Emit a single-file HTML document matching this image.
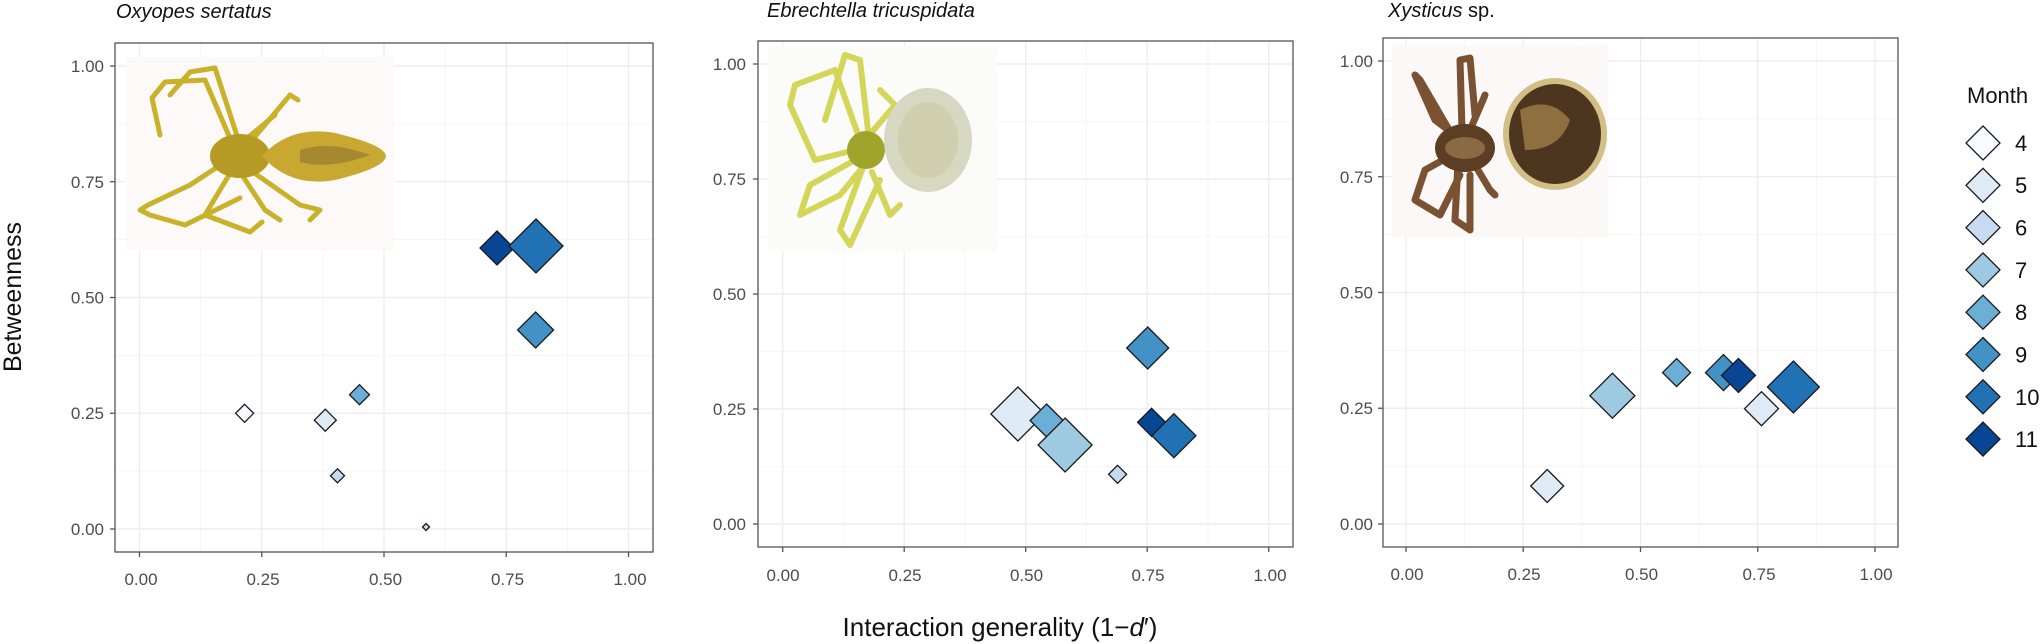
<!DOCTYPE html>
<html><head><meta charset="utf-8"><style>
html,body{margin:0;padding:0;background:#fff;}
svg{display:block;font-family:"Liberation Sans",Arial,sans-serif;}
.g{stroke:#ebebeb;stroke-width:1.2}
.m{stroke:#f4f4f4;stroke-width:0.8}
.t{font-size:17px;fill:#4d4d4d}
.d{stroke:#1a1a1a;stroke-width:1.3}
</style></head><body>
<svg width="2041" height="644" viewBox="0 0 2041 644" xmlns="http://www.w3.org/2000/svg">
<!-- ============ PANEL 1 ============ -->
<g>
<g class="m">
<line x1="200.6" y1="43" x2="200.6" y2="552"/><line x1="322.9" y1="43" x2="322.9" y2="552"/><line x1="445.1" y1="43" x2="445.1" y2="552"/><line x1="567.4" y1="43" x2="567.4" y2="552"/>
<line x1="115" y1="471.1" x2="653" y2="471.1"/><line x1="115" y1="355.4" x2="653" y2="355.4"/><line x1="115" y1="239.6" x2="653" y2="239.6"/><line x1="115" y1="123.9" x2="653" y2="123.9"/>
</g>
<g class="g">
<line x1="139.5" y1="43" x2="139.5" y2="552"/><line x1="261.75" y1="43" x2="261.75" y2="552"/><line x1="384" y1="43" x2="384" y2="552"/><line x1="506.25" y1="43" x2="506.25" y2="552"/><line x1="628.5" y1="43" x2="628.5" y2="552"/>
<line x1="115" y1="529" x2="653" y2="529"/><line x1="115" y1="413.25" x2="653" y2="413.25"/><line x1="115" y1="297.5" x2="653" y2="297.5"/><line x1="115" y1="181.75" x2="653" y2="181.75"/><line x1="115" y1="66" x2="653" y2="66"/>
</g>
<!-- photo -->
<rect x="126" y="57" width="268" height="193" fill="#fdf9f9"/>
<g fill="none" stroke="#c9b12a" stroke-width="5" stroke-linecap="round" stroke-linejoin="round">
<polyline points="235,150 205,80 165,82 152,98 160,135"/>
<polyline points="240,145 215,68 190,72 170,95"/>
<polyline points="228,160 190,185 148,205 140,210 150,215 185,225 240,198"/>
<polyline points="235,165 205,215 250,232 262,222"/>
<polyline points="248,145 290,95 298,100"/>
<polyline points="250,170 300,205 320,210 310,220"/>
<polyline points="245,140 275,115"/>
<polyline points="242,175 265,210 280,220"/>
</g>
<ellipse cx="240" cy="156" rx="30" ry="22" fill="#b59a25"/>
<path d="M262,156 Q290,125 335,133 Q385,145 386,156 Q385,168 335,180 Q290,188 262,156Z" fill="#c8a830"/>
<path d="M300,150 Q330,140 370,155 Q330,170 300,162Z" fill="#8c7530" opacity="0.6"/>
<!-- points -->
<g class="d">
<path d="M244.6,404.3 L253.6,413.3 L244.6,422.3 L235.6,413.3Z" fill="#f7fbff"/>
<path d="M325.3,409.2 L336.3,420.2 L325.3,431.2 L314.3,420.2Z" fill="#deebf7"/>
<path d="M337.5,468.8 L344.5,475.8 L337.5,482.8 L330.5,475.8Z" fill="#c6dbef"/>
<path d="M359.5,384.7 L369.5,394.7 L359.5,404.7 L349.5,394.7Z" fill="#6baed6"/>
<path d="M426,523.5 L429.5,527 L426,530.5 L422.5,527Z" fill="#c6dbef"/>
<path d="M535.6,312 L553.6,330 L535.6,348 L517.6,330Z" fill="#4292c6"/>
<path d="M497,231 L514,248 L497,265 L480,248Z" fill="#084594"/>
<path d="M536,219 L563,246 L536,273 L509,246Z" fill="#2171b5"/>
</g>
<rect x="115" y="43" width="538" height="509" fill="none" stroke="#555" stroke-width="1.3"/>
<g stroke="#555" stroke-width="1.3">
<line x1="110" y1="529" x2="115" y2="529"/><line x1="110" y1="413.25" x2="115" y2="413.25"/><line x1="110" y1="297.5" x2="115" y2="297.5"/><line x1="110" y1="181.75" x2="115" y2="181.75"/><line x1="110" y1="66" x2="115" y2="66"/>
<line x1="139.5" y1="552" x2="139.5" y2="557"/><line x1="261.75" y1="552" x2="261.75" y2="557"/><line x1="384" y1="552" x2="384" y2="557"/><line x1="506.25" y1="552" x2="506.25" y2="557"/><line x1="628.5" y1="552" x2="628.5" y2="557"/>
</g>
<g class="t" text-anchor="end">
<text x="104" y="535">0.00</text><text x="104" y="419">0.25</text><text x="104" y="303.5">0.50</text><text x="104" y="188">0.75</text><text x="104" y="72">1.00</text>
</g>
<g class="t" text-anchor="middle">
<text x="141" y="585">0.00</text><text x="263" y="585">0.25</text><text x="385.5" y="585">0.50</text><text x="507.5" y="585">0.75</text><text x="630" y="585">1.00</text>
</g>
<text x="116" y="18" font-size="20" font-style="italic" fill="#111">Oxyopes sertatus</text>
</g>

<!-- ============ PANEL 2 ============ -->
<g>
<g class="m">
<line x1="843.5" y1="41" x2="843.5" y2="547"/><line x1="965" y1="41" x2="965" y2="547"/><line x1="1086.5" y1="41" x2="1086.5" y2="547"/><line x1="1208" y1="41" x2="1208" y2="547"/>
<line x1="758" y1="466.5" x2="1293" y2="466.5"/><line x1="758" y1="351.5" x2="1293" y2="351.5"/><line x1="758" y1="236.5" x2="1293" y2="236.5"/><line x1="758" y1="121.5" x2="1293" y2="121.5"/>
</g>
<g class="g">
<line x1="782.7" y1="41" x2="782.7" y2="547"/><line x1="904.2" y1="41" x2="904.2" y2="547"/><line x1="1025.7" y1="41" x2="1025.7" y2="547"/><line x1="1147.2" y1="41" x2="1147.2" y2="547"/><line x1="1268.7" y1="41" x2="1268.7" y2="547"/>
<line x1="758" y1="524" x2="1293" y2="524"/><line x1="758" y1="409" x2="1293" y2="409"/><line x1="758" y1="294" x2="1293" y2="294"/><line x1="758" y1="179" x2="1293" y2="179"/><line x1="758" y1="64" x2="1293" y2="64"/>
</g>
<rect x="768" y="45" width="229" height="207" fill="#fbfcfa"/>
<g fill="none" stroke="#d4d65a" stroke-width="6" stroke-linecap="round" stroke-linejoin="round">
<polyline points="860,140 835,70 795,85 790,105 815,160 855,150"/>
<polyline points="868,130 860,60 845,55 825,120"/>
<polyline points="872,132 895,105 880,90"/>
<polyline points="855,160 810,185 800,215 840,195 862,168"/>
<polyline points="862,170 840,230 850,245 880,180"/>
<polyline points="872,172 890,215 900,205"/>
</g>
<circle cx="866" cy="150" r="19" fill="#9fa52a"/>
<ellipse cx="928" cy="140" rx="44" ry="52" fill="#d6d8c2"/>
<ellipse cx="928" cy="140" rx="30" ry="38" fill="#c8c39a" opacity="0.5"/>
<g class="d">
<path d="M1017.9,387 L1044.9,414 L1017.9,441 L990.9,414Z" fill="#deebf7"/>
<path d="M1046.6,404 L1063.1,420.5 L1046.6,437 L1030.1,420.5Z" fill="#6baed6"/>
<path d="M1065.1,418 L1092.1,445 L1065.1,472 L1038.1,445Z" fill="#9ecae1"/>
<path d="M1117.6,465.3 L1126.6,474.3 L1117.6,483.3 L1108.6,474.3Z" fill="#c6dbef"/>
<path d="M1147.7,327 L1168.7,348 L1147.7,369 L1126.7,348Z" fill="#4292c6"/>
<path d="M1151.6,408.3 L1165.6,422.3 L1151.6,436.3 L1137.6,422.3Z" fill="#084594"/>
<path d="M1173.9,413.7 L1195.9,435.7 L1173.9,457.7 L1151.9,435.7Z" fill="#2171b5"/>
</g>
<rect x="758" y="41" width="535" height="506" fill="none" stroke="#555" stroke-width="1.3"/>
<g stroke="#555" stroke-width="1.3">
<line x1="753" y1="524" x2="758" y2="524"/><line x1="753" y1="409" x2="758" y2="409"/><line x1="753" y1="294" x2="758" y2="294"/><line x1="753" y1="179" x2="758" y2="179"/><line x1="753" y1="64" x2="758" y2="64"/>
<line x1="782.7" y1="547" x2="782.7" y2="552"/><line x1="904.2" y1="547" x2="904.2" y2="552"/><line x1="1025.7" y1="547" x2="1025.7" y2="552"/><line x1="1147.2" y1="547" x2="1147.2" y2="552"/><line x1="1268.7" y1="547" x2="1268.7" y2="552"/>
</g>
<g class="t" text-anchor="end">
<text x="746" y="530">0.00</text><text x="746" y="415">0.25</text><text x="746" y="300">0.50</text><text x="746" y="185">0.75</text><text x="746" y="70">1.00</text>
</g>
<g class="t" text-anchor="middle">
<text x="783" y="581">0.00</text><text x="905" y="581">0.25</text><text x="1026.5" y="581">0.50</text><text x="1148" y="581">0.75</text><text x="1270" y="581">1.00</text>
</g>
<text x="767" y="17" font-size="20" font-style="italic" fill="#111">Ebrechtella tricuspidata</text>
</g>

<!-- ============ PANEL 3 ============ -->
<g>
<g class="m">
<line x1="1464.6" y1="38" x2="1464.6" y2="547"/><line x1="1581.9" y1="38" x2="1581.9" y2="547"/><line x1="1699.1" y1="38" x2="1699.1" y2="547"/><line x1="1816.4" y1="38" x2="1816.4" y2="547"/>
<line x1="1383" y1="466.1" x2="1898" y2="466.1"/><line x1="1383" y1="350.4" x2="1898" y2="350.4"/><line x1="1383" y1="234.6" x2="1898" y2="234.6"/><line x1="1383" y1="118.9" x2="1898" y2="118.9"/>
</g>
<g class="g">
<line x1="1406" y1="38" x2="1406" y2="547"/><line x1="1523.25" y1="38" x2="1523.25" y2="547"/><line x1="1640.5" y1="38" x2="1640.5" y2="547"/><line x1="1757.75" y1="38" x2="1757.75" y2="547"/><line x1="1875" y1="38" x2="1875" y2="547"/>
<line x1="1383" y1="524" x2="1898" y2="524"/><line x1="1383" y1="408.25" x2="1898" y2="408.25"/><line x1="1383" y1="292.5" x2="1898" y2="292.5"/><line x1="1383" y1="176.75" x2="1898" y2="176.75"/><line x1="1383" y1="61" x2="1898" y2="61"/>
</g>
<rect x="1392" y="45" width="216" height="192" fill="#fcf8f8"/>
<g fill="none" stroke="#7a5232" stroke-width="7" stroke-linecap="round" stroke-linejoin="round">
<polyline points="1455,140 1420,80 1415,75 1435,120 1455,135"/>
<polyline points="1462,130 1460,60 1470,58 1475,115"/>
<polyline points="1470,130 1483,100 1485,95"/>
<polyline points="1452,155 1425,170 1415,200 1440,215 1460,175"/>
<polyline points="1458,162 1455,220 1470,230 1470,175"/>
<polyline points="1475,165 1490,190 1495,195"/>
</g>
<ellipse cx="1465" cy="148" rx="30" ry="24" fill="#5b3e24"/>
<ellipse cx="1465" cy="148" rx="20" ry="11" fill="#8a6a44"/>
<ellipse cx="1555" cy="134" rx="52" ry="56" fill="#d2bf86"/>
<ellipse cx="1555" cy="134" rx="46" ry="50" fill="#4e3520"/>
<path d="M1520,110 Q1550,95 1570,120 Q1560,150 1525,150Z" fill="#a8894f" opacity="0.7"/>
<g class="d">
<path d="M1547.2,469.5 L1563.7,486 L1547.2,502.5 L1530.7,486Z" fill="#deebf7"/>
<path d="M1612.4,373.2 L1634.9,395.7 L1612.4,418.2 L1589.9,395.7Z" fill="#9ecae1"/>
<path d="M1676.6,358.6 L1690.6,372.6 L1676.6,386.6 L1662.6,372.6Z" fill="#6baed6"/>
<path d="M1723.5,354.6 L1741.5,372.6 L1723.5,390.6 L1705.5,372.6Z" fill="#4292c6"/>
<path d="M1738.5,358.4 L1755.5,375.4 L1738.5,392.4 L1721.5,375.4Z" fill="#084594"/>
<path d="M1761.5,391.7 L1778.5,408.7 L1761.5,425.7 L1744.5,408.7Z" fill="#deebf7"/>
<path d="M1793.4,361 L1819.4,387 L1793.4,413 L1767.4,387Z" fill="#2171b5"/>
</g>
<rect x="1383" y="38" width="515" height="509" fill="none" stroke="#555" stroke-width="1.3"/>
<g stroke="#555" stroke-width="1.3">
<line x1="1378" y1="524" x2="1383" y2="524"/><line x1="1378" y1="408.25" x2="1383" y2="408.25"/><line x1="1378" y1="292.5" x2="1383" y2="292.5"/><line x1="1378" y1="176.75" x2="1383" y2="176.75"/><line x1="1378" y1="61" x2="1383" y2="61"/>
<line x1="1406" y1="547" x2="1406" y2="552"/><line x1="1523.25" y1="547" x2="1523.25" y2="552"/><line x1="1640.5" y1="547" x2="1640.5" y2="552"/><line x1="1757.75" y1="547" x2="1757.75" y2="552"/><line x1="1875" y1="547" x2="1875" y2="552"/>
</g>
<g class="t" text-anchor="end">
<text x="1373" y="530">0.00</text><text x="1373" y="414">0.25</text><text x="1373" y="298.5">0.50</text><text x="1373" y="183">0.75</text><text x="1373" y="67">1.00</text>
</g>
<g class="t" text-anchor="middle">
<text x="1407" y="580">0.00</text><text x="1524" y="580">0.25</text><text x="1641.5" y="580">0.50</text><text x="1759" y="580">0.75</text><text x="1876" y="580">1.00</text>
</g>
<text x="1388" y="17" font-size="20" fill="#111"><tspan font-style="italic">Xysticus</tspan> sp.</text>
</g>

<!-- axis titles -->
<text transform="translate(21,297) rotate(-90)" text-anchor="middle" font-size="25" fill="#111">Betweenness</text>
<text x="1000" y="636" text-anchor="middle" font-size="26" fill="#111">Interaction generality (1−<tspan font-style="italic">d</tspan>′)</text>

<!-- legend -->
<text x="1967" y="103" font-size="22" fill="#111">Month</text>
<g class="d">
<path d="M1983,126 L2000,143 L1983,160 L1966,143Z" fill="#f7fbff"/>
<path d="M1983,168.3 L2000,185.3 L1983,202.3 L1966,185.3Z" fill="#deebf7"/>
<path d="M1983,210.6 L2000,227.6 L1983,244.6 L1966,227.6Z" fill="#c6dbef"/>
<path d="M1983,252.9 L2000,269.9 L1983,286.9 L1966,269.9Z" fill="#9ecae1"/>
<path d="M1983,295.2 L2000,312.2 L1983,329.2 L1966,312.2Z" fill="#6baed6"/>
<path d="M1983,337.5 L2000,354.5 L1983,371.5 L1966,354.5Z" fill="#4292c6"/>
<path d="M1983,379.8 L2000,396.8 L1983,413.8 L1966,396.8Z" fill="#2171b5"/>
<path d="M1983,422.1 L2000,439.1 L1983,456.1 L1966,439.1Z" fill="#084594"/>
</g>
<g font-size="22" fill="#111">
<text x="2015" y="151">4</text><text x="2015" y="193">5</text><text x="2015" y="235.6">6</text><text x="2015" y="278">7</text><text x="2015" y="320">8</text><text x="2015" y="362.5">9</text><text x="2015" y="405">10</text><text x="2015" y="447">11</text>
</g>
</svg>
</body></html>
